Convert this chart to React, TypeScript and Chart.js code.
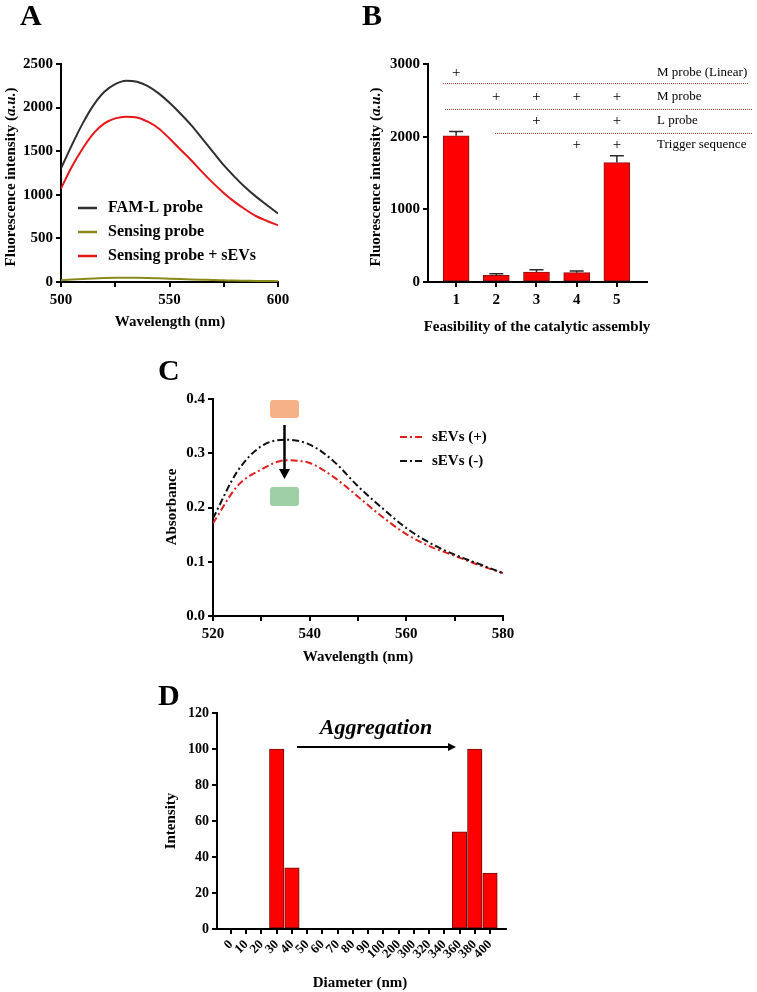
import React, { useEffect, useRef } from 'react';
import { Chart, registerables } from 'chart.js';

Chart.register(...registerables);

const SERIF = '"Liberation Serif", "Times New Roman", Times, serif';

// ---------------- Panel A data ----------------
const A_WAVELENGTH = [500, 505, 510, 515, 520, 525, 530, 535, 540, 545, 550, 555, 560, 565, 570, 575, 580, 585, 590, 595, 600];
const A_FAML = [1302, 1570, 1819, 2029, 2182, 2270, 2309, 2297, 2247, 2163, 2056, 1933, 1799, 1646, 1493, 1340, 1206, 1083, 976, 880, 785];
const A_SENSING = [20, 28, 35, 41, 45, 48, 50, 49, 46, 42, 38, 34, 30, 26, 22, 19, 16, 14, 12, 11, 10];
const A_SENSING_SEVS = [1072, 1321, 1531, 1704, 1819, 1876, 1895, 1887, 1838, 1761, 1646, 1520, 1397, 1263, 1137, 1022, 919, 831, 754, 700, 651];
const A_SERIES = ['FAM-L probe', 'Sensing probe', 'Sensing probe + sEVs'];
const A_X_LABELS = [500, 550, 600];

// ---------------- Panel B data ----------------
const B_GROUPS = [1, 2, 3, 4, 5];
const B_VALUES = [2011, 92, 138, 129, 1643];
const B_ERRORS = [60, 23, 32, 23, 96];
const B_ROW_LABELS = ['M probe (Linear)', 'M probe', 'L probe', 'Trigger sequence'];
const B_PLUS = [
  [1, 0, 0, 0, 0],
  [0, 1, 1, 1, 1],
  [0, 0, 1, 0, 1],
  [0, 0, 0, 1, 1],
];

// ---------------- Panel C data ----------------
const C_WAVELENGTH = [520, 525, 530, 535, 540, 545, 550, 555, 560, 565, 570, 575, 580];
const C_SEVS_POS = [0.171, 0.239, 0.270, 0.287, 0.282, 0.256, 0.220, 0.183, 0.151, 0.128, 0.111, 0.094, 0.079];
const C_SEVS_NEG = [0.180, 0.266, 0.313, 0.325, 0.316, 0.285, 0.239, 0.199, 0.162, 0.134, 0.113, 0.096, 0.079];
const C_SERIES = ['sEVs (+)', 'sEVs (-)'];
const C_X_LABELS = [520, 540, 560, 580];
const C_PEAK_NM = 535;

// ---------------- Panel D data ----------------
const D_DIAMETERS = ['0', '10', '20', '30', '40', '50', '60', '70', '80', '90', '100', '200', '300', '320', '340', '360', '380', '400'];
const D_INTENSITY = [0, 0, 0, 100, 34, 0, 0, 0, 0, 0, 0, 0, 0, 0, 0, 54, 100, 31];

// ---------------- helpers ----------------
const bold = (s: number) => `bold ${s}px ${SERIF}`;
const boldItalic = (s: number) => `italic bold ${s}px ${SERIF}`;
const regular = (s: number) => `${s}px ${SERIF}`;

const fixY = (w: number) => (s: any) => {
  s.width = w;
  s.paddingTop = 0;
  s.paddingBottom = 0;
};
const fixX = (h: number) => (s: any) => {
  s.height = h;
  s.paddingLeft = 0;
  s.paddingRight = 0;
};

function axisBase(fontSize: number, pad: number) {
  return {
    offset: false,
    grid: {
      display: true,
      drawOnChartArea: false,
      drawTicks: true,
      tickLength: 5,
      color: '#000',
      lineWidth: 2,
      offset: false,
    },
    border: { display: true, color: '#000', width: 2 },
    ticks: {
      color: '#000',
      font: { family: SERIF, size: fontSize, weight: 'bold' as const },
      padding: pad,
    },
  };
}

const plain = (v: number) => String(v);

function text(ctx: CanvasRenderingContext2D, t: string, x: number, y: number, font: string, align: CanvasTextAlign = 'center', baseline: CanvasTextBaseline = 'middle') {
  ctx.save();
  ctx.font = font;
  ctx.fillStyle = '#000';
  ctx.textAlign = align;
  ctx.textBaseline = baseline;
  ctx.fillText(t, x, y);
  ctx.restore();
}

function rotatedText(ctx: CanvasRenderingContext2D, parts: { t: string; font: string }[], cx: number, cy: number) {
  ctx.save();
  ctx.translate(cx, cy);
  ctx.rotate(-Math.PI / 2);
  ctx.textBaseline = 'middle';
  ctx.textAlign = 'left';
  ctx.fillStyle = '#000';
  let total = 0;
  for (const p of parts) {
    ctx.font = p.font;
    total += ctx.measureText(p.t).width;
  }
  let x = -total / 2;
  for (const p of parts) {
    ctx.font = p.font;
    ctx.fillText(p.t, x, 0);
    x += ctx.measureText(p.t).width;
  }
  ctx.restore();
}

function arrow(ctx: CanvasRenderingContext2D, x1: number, y1: number, x2: number, y2: number, head = 10, width = 9, lw = 2) {
  const ang = Math.atan2(y2 - y1, x2 - x1);
  ctx.save();
  ctx.strokeStyle = '#000';
  ctx.fillStyle = '#000';
  ctx.lineWidth = lw;
  ctx.beginPath();
  ctx.moveTo(x1, y1);
  ctx.lineTo(x2 - head * Math.cos(ang), y2 - head * Math.sin(ang));
  ctx.stroke();
  ctx.translate(x2, y2);
  ctx.rotate(ang);
  ctx.beginPath();
  ctx.moveTo(0, 0);
  ctx.lineTo(-head, -width / 2);
  ctx.lineTo(-head, width / 2);
  ctx.closePath();
  ctx.fill();
  ctx.restore();
}

function roundRect(ctx: CanvasRenderingContext2D, x: number, y: number, w: number, h: number, r: number, fill: string) {
  ctx.save();
  ctx.fillStyle = fill;
  ctx.beginPath();
  ctx.moveTo(x + r, y);
  ctx.lineTo(x + w - r, y);
  ctx.quadraticCurveTo(x + w, y, x + w, y + r);
  ctx.lineTo(x + w, y + h - r);
  ctx.quadraticCurveTo(x + w, y + h, x + w - r, y + h);
  ctx.lineTo(x + r, y + h);
  ctx.quadraticCurveTo(x, y + h, x, y + h - r);
  ctx.lineTo(x, y + r);
  ctx.quadraticCurveTo(x, y, x + r, y);
  ctx.closePath();
  ctx.fill();
  ctx.restore();
}

const FLUO_TITLE = [
  { t: 'Fluorescence intensity (', font: bold(15) },
  { t: 'a.u.', font: boldItalic(15) },
  { t: ')', font: bold(15) },
];

// ---------------- configs ----------------
const A_COLORS = ['#2f2f2f', '#8a8a1c', '#e8161b'];

function configA(): any {
  const series = [A_FAML, A_SENSING, A_SENSING_SEVS];
  return {
    type: 'line',
    data: {
      datasets: series.map((s, k) => ({
        label: A_SERIES[k],
        data: A_WAVELENGTH.map((x, i) => ({ x, y: s[i] })),
        borderColor: A_COLORS[k],
        borderWidth: 2,
        pointRadius: 0,
        tension: 0.4,
        cubicInterpolationMode: 'monotone',
        fill: false,
      })),
    },
    options: {
      responsive: false,
      animation: false,
      events: [],
      layout: { padding: { left: 0, top: 64, right: 67, bottom: 0 } },
      plugins: { legend: { display: false }, tooltip: { enabled: false } },
      scales: {
        x: {
          ...axisBase(15, 4),
          type: 'linear',
          min: 500,
          max: 600,
          ticks: {
            ...axisBase(15, 4).ticks,
            stepSize: 25,
            callback: (v: number) => (A_X_LABELS.includes(v) ? String(v) : ''),
          },
          afterFit: fixX(58),
        },
        y: {
          ...axisBase(15, 3),
          type: 'linear',
          min: 0,
          max: 2500,
          ticks: { ...axisBase(15, 3).ticks, stepSize: 500, callback: plain },
          afterFit: fixY(61),
        },
      },
    },
    plugins: [
      {
        id: 'decorA',
        afterDraw(chart: any) {
          const ctx = chart.ctx as CanvasRenderingContext2D;
          text(ctx, 'A', 20, 25, bold(30), 'left', 'alphabetic');
          rotatedText(ctx, FLUO_TITLE, 11, 177);
          text(ctx, 'Wavelength (nm)', 170, 322, bold(15));
          A_SERIES.forEach((name, k) => {
            const y = 208 + 24 * k;
            ctx.save();
            ctx.strokeStyle = A_COLORS[k];
            ctx.lineWidth = 2.5;
            ctx.beginPath();
            ctx.moveTo(78, y);
            ctx.lineTo(97, y);
            ctx.stroke();
            ctx.restore();
            text(ctx, name, 108, y, bold(16), 'left');
          });
        },
      },
    ],
  };
}

function configB(): any {
  return {
    type: 'bar',
    data: {
      datasets: [
        {
          data: B_GROUPS.map((g, i) => ({ x: g, y: B_VALUES[i] })),
          backgroundColor: '#ff0000',
          borderColor: '#8a1515',
          borderWidth: 1,
          borderSkipped: false,
          barThickness: 26,
        },
      ],
    },
    options: {
      responsive: false,
      animation: false,
      events: [],
      layout: { padding: { left: 0, top: 64, right: 110, bottom: 0 } },
      plugins: { legend: { display: false }, tooltip: { enabled: false } },
      scales: {
        x: {
          ...axisBase(15, 4),
          type: 'linear',
          min: 0.3,
          max: 5.75,
          afterBuildTicks: (s: any) => {
            s.ticks = B_GROUPS.map((v) => ({ value: v }));
          },
          ticks: { ...axisBase(15, 4).ticks, callback: plain },
          afterFit: fixX(58),
        },
        y: {
          ...axisBase(15, 3),
          type: 'linear',
          min: 0,
          max: 3000,
          ticks: { ...axisBase(15, 3).ticks, stepSize: 1000, callback: plain },
          afterFit: fixY(83),
        },
      },
    },
    plugins: [
      {
        id: 'decorB',
        afterDatasetsDraw(chart: any) {
          const ctx = chart.ctx as CanvasRenderingContext2D;
          const xs = chart.scales.x;
          const ys = chart.scales.y;
          ctx.save();
          ctx.strokeStyle = '#2a2a2a';
          ctx.lineWidth = 1.5;
          B_GROUPS.forEach((g, i) => {
            const x = xs.getPixelForValue(g);
            const y0 = ys.getPixelForValue(B_VALUES[i]);
            const y1 = ys.getPixelForValue(B_VALUES[i] + B_ERRORS[i]);
            ctx.beginPath();
            ctx.moveTo(x, y0);
            ctx.lineTo(x, y1);
            ctx.moveTo(x - 7, y1);
            ctx.lineTo(x + 7, y1);
            ctx.stroke();
          });
          ctx.restore();
        },
        afterDraw(chart: any) {
          const ctx = chart.ctx as CanvasRenderingContext2D;
          const xs = chart.scales.x;
          const top = chart.chartArea.top;
          text(ctx, 'B', 17, 25, bold(30), 'left', 'alphabetic');
          rotatedText(ctx, FLUO_TITLE, 31, 177);
          text(ctx, 'Feasibility of the catalytic assembly', 192, 327, bold(15));
          const rowY = [9, 33, 57, 81];
          B_ROW_LABELS.forEach((label, r) => {
            const y = top + rowY[r];
            B_PLUS[r].forEach((on, c) => {
              if (on) text(ctx, '+', xs.getPixelForValue(B_GROUPS[c]), y, regular(15));
            });
            text(ctx, label, 312, y, regular(13), 'left');
          });
          const seps = [
            { y: 19, x1: 98, x2: 403 },
            { y: 45, x1: 100, x2: 407 },
            { y: 69, x1: 150, x2: 407 },
          ];
          ctx.save();
          ctx.strokeStyle = '#b0473c';
          ctx.lineWidth = 1;
          ctx.setLineDash([1, 1]);
          seps.forEach((s) => {
            ctx.beginPath();
            ctx.moveTo(s.x1, top + s.y + 0.5);
            ctx.lineTo(s.x2, top + s.y + 0.5);
            ctx.stroke();
          });
          ctx.restore();
        },
      },
    ],
  };
}

const C_COLORS = ['#e0201e', '#111111'];
const C_DASH = [7, 3, 2, 3];

function configC(): any {
  const series = [C_SEVS_POS, C_SEVS_NEG];
  return {
    type: 'line',
    data: {
      datasets: series
        .map((s, k) => ({
          label: C_SERIES[k],
          data: C_WAVELENGTH.map((x, i) => ({ x, y: s[i] })),
          borderColor: C_COLORS[k],
          borderWidth: 2,
          borderDash: C_DASH,
          pointRadius: 0,
          tension: 0.4,
          cubicInterpolationMode: 'monotone',
          fill: false,
        }))
        .reverse(),
    },
    options: {
      responsive: false,
      animation: false,
      events: [],
      layout: { padding: { left: 0, top: 59, right: 57, bottom: 0 } },
      plugins: { legend: { display: false }, tooltip: { enabled: false } },
      scales: {
        x: {
          ...axisBase(15, 4),
          type: 'linear',
          min: 520,
          max: 580,
          ticks: {
            ...axisBase(15, 4).ticks,
            stepSize: 10,
            callback: (v: number) => (C_X_LABELS.includes(v) ? String(v) : ''),
          },
          afterFit: fixX(54),
        },
        y: {
          ...axisBase(15, 3),
          type: 'linear',
          min: 0,
          max: 0.4,
          ticks: { ...axisBase(15, 3).ticks, stepSize: 0.1, callback: (v: number) => v.toFixed(1) },
          afterFit: fixY(73),
        },
      },
    },
    plugins: [
      {
        id: 'decorC',
        afterDraw(chart: any) {
          const ctx = chart.ctx as CanvasRenderingContext2D;
          const xs = chart.scales.x;
          const top = chart.chartArea.top;
          text(ctx, 'C', 18, 40, bold(30), 'left', 'alphabetic');
          rotatedText(ctx, [{ t: 'Absorbance', font: bold(15) }], 32, 167);
          text(ctx, 'Wavelength (nm)', 218, 317, bold(15));
          const cx = xs.getPixelForValue(C_PEAK_NM) - 1;
          roundRect(ctx, cx - 14.5, top + 1, 29, 18, 3, '#f6b287');
          roundRect(ctx, cx - 14.5, top + 88, 29, 19, 3, '#9fcfa4');
          arrow(ctx, cx, top + 26, cx, top + 80, 10, 11, 2.5);
          C_SERIES.forEach((name, k) => {
            const y = 97 + 24 * k;
            ctx.save();
            ctx.strokeStyle = C_COLORS[k];
            ctx.lineWidth = 2;
            ctx.setLineDash(C_DASH);
            ctx.beginPath();
            ctx.moveTo(260, y);
            ctx.lineTo(283, y);
            ctx.stroke();
            ctx.restore();
            text(ctx, name, 292, y, bold(15), 'left');
          });
        },
      },
    ],
  };
}

function configD(): any {
  return {
    type: 'bar',
    data: {
      datasets: [
        {
          data: D_INTENSITY.map((v, i) => ({ x: i, y: v })),
          backgroundColor: '#ff0000',
          borderColor: '#6e0d0d',
          borderWidth: 1,
          borderSkipped: false,
          barThickness: 14.5,
        },
      ],
    },
    options: {
      responsive: false,
      animation: false,
      events: [],
      layout: { padding: { left: 0, top: 43, right: 54, bottom: 0 } },
      plugins: { legend: { display: false }, tooltip: { enabled: false } },
      scales: {
        x: {
          ...axisBase(13, 3),
          type: 'linear',
          min: -0.92,
          max: 18.05,
          afterBuildTicks: (s: any) => {
            s.ticks = D_DIAMETERS.map((_, i) => ({ value: i }));
          },
          ticks: {
            ...axisBase(13, 3).ticks,
            autoSkip: false,
            minRotation: 45,
            maxRotation: 45,
            callback: (v: number) => D_DIAMETERS[v] ?? '',
          },
          afterFit: fixX(63),
        },
        y: {
          ...axisBase(14, 3),
          type: 'linear',
          min: 0,
          max: 120,
          ticks: { ...axisBase(14, 3).ticks, stepSize: 20, callback: plain },
          afterFit: fixY(77),
        },
      },
    },
    plugins: [
      {
        id: 'decorD',
        afterDraw(chart: any) {
          const ctx = chart.ctx as CanvasRenderingContext2D;
          text(ctx, 'D', 18, 35, bold(30), 'left', 'alphabetic');
          rotatedText(ctx, [{ t: 'Intensity', font: bold(15) }], 31, 151);
          text(ctx, 'Diameter (nm)', 220, 313, bold(15));
          text(ctx, 'Aggregation', 236, 64, boldItalic(22), 'center', 'alphabetic');
          arrow(ctx, 157, 77, 316, 77, 8, 8, 2);
        },
      },
    ],
  };
}

function Panel({ left, top, width, height, make }: { left: number; top: number; width: number; height: number; make: () => any }) {
  const ref = useRef<HTMLCanvasElement>(null);
  useEffect(() => {
    const chart = new Chart(ref.current as HTMLCanvasElement, make());
    return () => chart.destroy();
  }, []);
  return (
    <div style={{ position: 'absolute', left, top, width, height }}>
      <canvas ref={ref} width={width} height={height} style={{ width, height, display: 'block' }} />
    </div>
  );
}

export default function App() {
  return (
    <div style={{ position: 'absolute', left: 0, top: 0, width: 757, height: 992, background: '#fff', overflow: 'hidden' }}>
      <Panel left={0} top={0} width={345} height={340} make={configA} />
      <Panel left={345} top={0} width={412} height={340} make={configB} />
      <Panel left={140} top={340} width={420} height={330} make={configC} />
      <Panel left={140} top={670} width={420} height={322} make={configD} />
    </div>
  );
}
